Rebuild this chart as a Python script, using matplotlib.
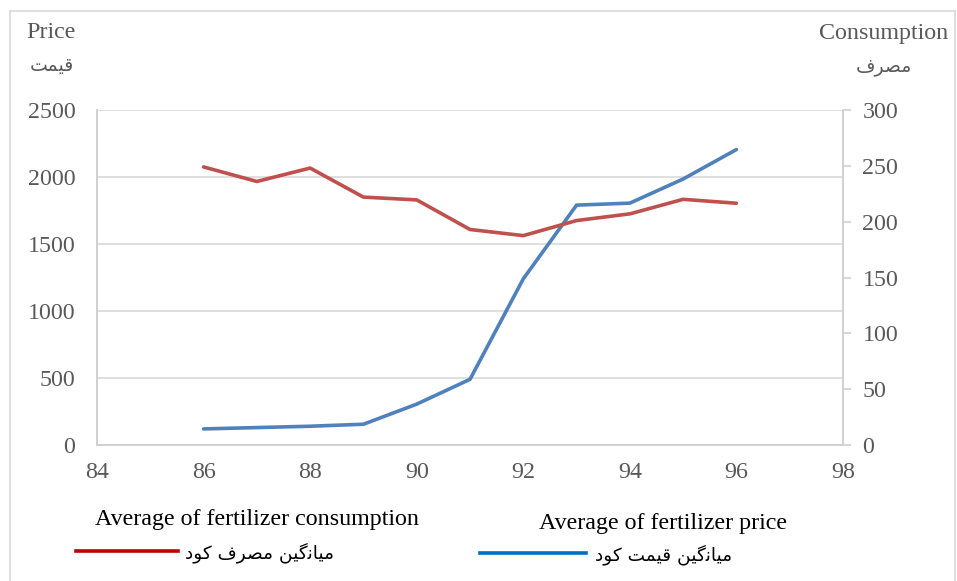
import matplotlib
matplotlib.use("Agg")
import matplotlib.pyplot as plt
from matplotlib.lines import Line2D

years = [86, 87, 88, 89, 90, 91, 92, 93, 94, 95, 96]
price = [120, 130, 140, 155, 305, 490, 1240, 1790, 1805, 1985, 2205]
consumption = [249, 236, 248, 222, 219.5, 193, 187.5, 201, 207, 220, 216.5]

x_ticks = [84, 86, 88, 90, 92, 94, 96, 98]
left_ticks = [0, 500, 1000, 1500, 2000, 2500]
right_ticks = [0, 50, 100, 150, 200, 250, 300]

# Arabic-script labels (presentation forms, visual order)
lbl_price_fa = "\uFE96\uFEE4\uFEF4\uFED7"
lbl_cons_fa = "\uFED1\uFEAE\uFEBC\uFEE3"
leg_cons_fa = "\uFEA9\uFEEE\uFB90 \uFED1\uFEAE\uFEBC\uFEE3 \uFEE6\uFEF4\uFB94\uFEE7\uFE8E\uFEF4\uFEE3"
leg_price_fa = "\uFEA9\uFEEE\uFB90 \uFE96\uFEE4\uFEF4\uFED7 \uFEE6\uFEF4\uFB94\uFEE7\uFE8E\uFEF4\uFEE3"

SERIF = ["Liberation Serif", "DejaVu Serif"]
AR = ["DejaVu Sans"]
GRAY = "#595959"
fs = 17.3

W, H = 957, 581
fig = plt.figure(figsize=(W / 100, H / 100), dpi=100)
ax = fig.add_axes([97 / W, 1 - 445 / H, (843 - 97) / W, (445 - 110) / H])
ax2 = ax.twinx()

ax.plot(years, price, color="#4f81bd", lw=2.6, solid_capstyle="round", zorder=3)
ax2.plot(years, consumption, color="#c0504d", lw=2.6, solid_capstyle="round", zorder=3)

ax.set_xlim(84, 98)
ax.set_ylim(0, 2500)
ax2.set_ylim(0, 300)
ax.set_xticks(x_ticks)
ax.set_yticks(left_ticks)
ax2.set_yticks(right_ticks)

ax.grid(axis="y", color="#d9d9d9", lw=1.2)
ax.set_axisbelow(True)
for a in (ax, ax2):
    for s in a.spines.values():
        s.set_color("#d0d0d0")
        s.set_linewidth(1.2)
    a.spines["top"].set_visible(False)

ax.tick_params(axis="x", length=0, pad=12, labelsize=fs, labelcolor=GRAY)
ax.tick_params(axis="y", length=0, pad=15.5, labelsize=fs, labelcolor=GRAY)
ax2.tick_params(axis="y", length=6, width=1.2, color="#d0d0d0", pad=8,
                labelsize=fs, labelcolor=GRAY)
for lab in ax.get_xticklabels() + ax.get_yticklabels() + ax2.get_yticklabels():
    lab.set_family(SERIF)

# axis titles
fig.text(51 / W, 1 - 33 / H, "Price", ha="center", va="center",
         fontsize=fs, color=GRAY, family=SERIF)
fig.text(52 / W, 1 - 66 / H, lbl_price_fa, ha="center", va="center",
         fontsize=13.5, color=GRAY, family=AR)
fig.text(884 / W, 1 - 33 / H, "Consumption", ha="center", va="center",
         fontsize=fs, color=GRAY, family=SERIF)
fig.text(884 / W, 1 - 66 / H, lbl_cons_fa, ha="center", va="center",
         fontsize=13.5, color=GRAY, family=AR)

# legend
fig.text(95 / W, 1 - 519 / H, "Average of fertilizer consumption", ha="left",
         va="center", fontsize=fs, color="black", family=SERIF)
fig.add_artist(Line2D([76 / W, 178 / W], [1 - 551 / H, 1 - 551 / H],
                      color="#c00000", lw=2.6, transform=fig.transFigure))
fig.text(185 / W, 1 - 553 / H, leg_cons_fa, ha="left", va="center",
         fontsize=13.3, color="black", family=AR)

fig.text(539 / W, 1 - 524 / H, "Average of fertilizer price", ha="left",
         va="center", fontsize=fs, color="black", family=SERIF)
fig.add_artist(Line2D([480 / W, 586 / W], [1 - 553 / H, 1 - 553 / H],
                      color="#0070c0", lw=2.6, transform=fig.transFigure))
fig.text(595 / W, 1 - 555 / H, leg_price_fa, ha="left", va="center",
         fontsize=13.3, color="black", family=AR)

# outer border
for xs, ys in [([10, 10], [11, H + 5]), ([10, W - 2], [11, 11]), ([W - 2, W - 2], [11, H + 5])]:
    fig.add_artist(Line2D([x / W for x in xs], [1 - y / H for y in ys],
                          color="#d9d9d9", lw=1.2, transform=fig.transFigure))

fig.savefig("out.png", dpi=100)
